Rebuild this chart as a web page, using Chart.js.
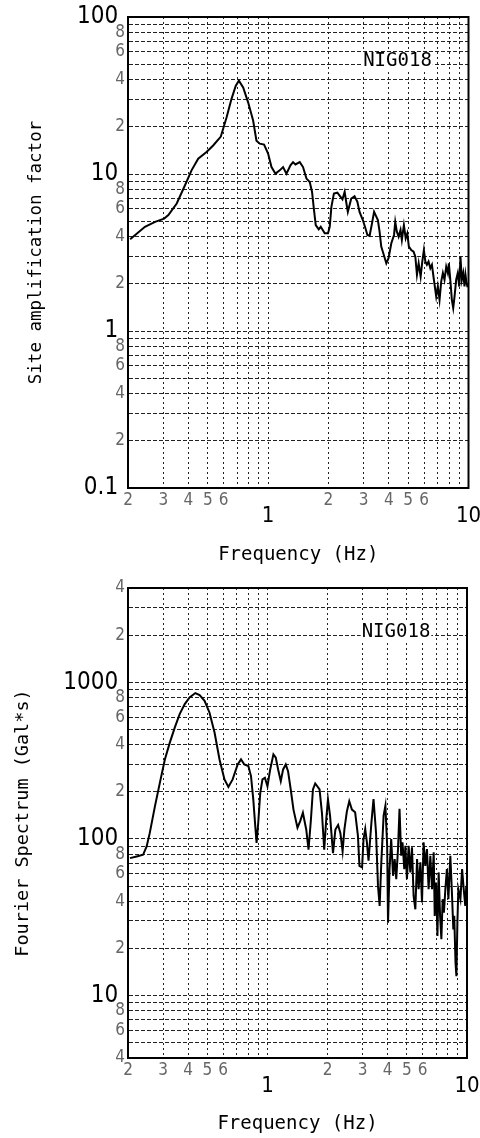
<!DOCTYPE html>
<html>
<head>
<meta charset="utf-8">
<script src="https://cdn.jsdelivr.net/npm/chart.js@4.4.0/dist/chart.umd.min.js"></script>
<style>
  html, body { margin: 0; padding: 0; background: #fff; }
  .panel { width: 480px; height: 569px; }
</style>
</head>
<body>
<div class="panel"><canvas id="siteChart" width="480" height="569"></canvas></div>
<div class="panel"><canvas id="fourierChart" width="480" height="569"></canvas></div>
<script>
// Station code printed in both panels
const STATION = 'NIG018';

// Site amplification factor (upper panel)
const siteFreq = [
  0.205, 0.243, 0.273, 0.303, 0.318, 0.35, 0.385, 0.415, 0.448, 0.493,
  0.532, 0.581, 0.621, 0.657, 0.69, 0.715, 0.751, 0.795, 0.842, 0.875,
  0.909, 0.955, 1.0, 1.04, 1.089, 1.143, 1.188, 1.235, 1.293, 1.332,
  1.369, 1.439, 1.494, 1.554, 1.614, 1.657, 1.695, 1.729, 1.789, 1.831,
  1.917, 1.991, 2.03, 2.07, 2.13, 2.216, 2.30, 2.35, 2.41, 2.46,
  2.50, 2.60, 2.70, 2.79, 2.86, 2.97, 3.06, 3.13, 3.21, 3.30,
  3.38, 3.44, 3.53, 3.60, 3.67, 3.78, 3.89, 3.99, 4.12, 4.25,
  4.31, 4.39, 4.48, 4.58, 4.65, 4.76, 4.86, 4.95, 5.04, 5.18,
  5.32, 5.43, 5.53, 5.64, 5.77, 5.88, 5.99, 6.09, 6.20, 6.32,
  6.45, 6.57, 6.72, 6.90, 7.03, 7.17, 7.31, 7.45, 7.59, 7.74,
  7.89, 7.98, 8.14, 8.26, 8.39, 8.52, 8.68, 8.84, 8.99, 9.12,
  9.26, 9.41, 9.55, 9.66, 9.78, 9.9
];
const siteAmp = [
  3.84, 4.61, 4.96, 5.2, 5.47, 6.49, 8.48, 10.55, 12.5, 13.8,
  15.2, 17.3, 23.0, 30.1, 36.5, 39.3, 35.6, 28.6, 21.9, 16.3,
  15.6, 15.4, 13.5, 11.07, 10.05, 10.55, 11.07, 10.05, 11.35, 11.9,
  11.5, 11.9, 11.07, 9.35, 8.9, 7.69, 5.89, 4.73, 4.44, 4.61,
  4.19, 4.19, 4.61, 6.18, 7.51, 7.6, 7.15, 6.9, 7.69, 6.49,
  5.74, 6.98, 7.22, 6.65, 5.74, 5.09, 4.51, 4.09, 4.04, 4.85,
  5.74, 5.47, 5.09, 4.29, 3.45, 3.05, 2.70, 2.91, 3.62, 4.09,
  4.96, 4.29, 3.99, 4.40, 3.80, 4.73, 3.9, 4.19, 3.45, 3.28,
  3.2, 2.97, 2.28, 2.70, 2.22, 2.77, 3.28, 2.77, 2.64, 2.77,
  2.51, 2.64, 2.12, 1.66, 1.92, 1.58, 2.07, 2.34, 2.12, 2.57,
  2.34, 2.70, 2.02, 1.58, 1.40, 1.66, 2.12, 2.34, 1.92, 2.97,
  2.12, 2.34, 1.92, 2.28, 2.02, 1.9
];

// Fourier spectrum (lower panel)
const fourierFreq = [
  0.2046, 0.221, 0.238, 0.248, 0.257, 0.273, 0.289, 0.306, 0.324, 0.343,
  0.363, 0.385, 0.407, 0.435, 0.457, 0.484, 0.512, 0.543, 0.575, 0.609,
  0.637, 0.669, 0.709, 0.737, 0.766, 0.802, 0.827, 0.849, 0.869, 0.882,
  0.899, 0.92, 0.944, 0.971, 1.0, 1.032, 1.071, 1.101, 1.131, 1.166,
  1.198, 1.235, 1.268, 1.308, 1.35, 1.414, 1.459, 1.505, 1.564, 1.606,
  1.651, 1.69, 1.735, 1.824, 1.875, 1.925, 1.97, 2.01, 2.06, 2.13,
  2.19, 2.26, 2.32, 2.38, 2.43, 2.50, 2.57, 2.65,
  2.75, 2.84, 2.89, 2.98, 3.03, 3.09, 3.15, 3.21, 3.32, 3.40,
  3.50, 3.58, 3.65, 3.72, 3.82, 3.90, 3.98, 4.02, 4.09, 4.17,
  4.26, 4.34, 4.42, 4.51, 4.59, 4.68, 4.75, 4.85, 4.91, 5.0,
  5.10, 5.20, 5.30, 5.40, 5.51, 5.62, 5.72, 5.84, 5.95, 6.06,
  6.18, 6.30, 6.42, 6.55, 6.68, 6.81, 6.89, 7.0, 7.11, 7.21,
  7.33, 7.44, 7.55, 7.66, 7.79, 7.93, 8.07, 8.25, 8.39, 8.54,
  8.63, 8.76, 8.85, 8.95, 9.05, 9.27, 9.45, 9.63, 9.80, 9.92
];
const fourierAmp = [
  75.5, 77.4, 79.3, 89.6, 109, 162, 229, 322, 412, 514,
  627, 726, 801, 854, 829, 762, 642, 478, 322, 240,
  215, 240, 299, 322, 299, 292, 252, 179, 120, 94.3,
  127, 197, 240, 246, 217, 278, 347, 330, 278, 234,
  278, 299, 271, 207, 154, 118, 130, 147, 115, 85.4,
  133, 207, 226, 207, 147, 85.4, 133, 179, 140, 81.3,
  115, 123, 109, 83.3, 115, 150, 174, 154,
  148, 105, 67.4, 65.9, 100, 116, 95, 72.6, 128, 180,
  110, 50.2, 37.4, 70.9, 141, 163, 90.6, 29.2, 64.2, 100,
  58.2, 74.5, 55.4, 86.3, 156, 78.2, 95.2, 64.2, 90.6, 55.4,
  90.6, 61.2, 88.4, 43.3, 35.6, 74.5, 47.8, 70.9, 39.3, 95.2,
  67.4, 86.3, 47.8, 78.2, 47.8, 82.2, 32.3, 52.8, 24.0, 61.2,
  32.3, 22.9, 41.3, 33.9, 47.8, 64.2, 41.3, 78.2, 47.8, 26.5,
  32.3, 16.2, 13.3, 29.2, 47.8, 41.3, 64.2, 47.8, 37.4, 50.2
];

// Axis ticks and labels
const xTicks = [0.2, 0.3, 0.4, 0.5, 0.6, 0.7, 0.8, 0.9, 1, 2, 3, 4, 5, 6, 7, 8, 9, 10];
const xMajors = [1, 10];
const xLabelled = [0.2, 0.3, 0.4, 0.5, 0.6, 2, 3, 4, 5, 6];

const siteTicks = [0.1, 0.2, 0.3, 0.4, 0.5, 0.6, 0.7, 0.8, 0.9, 1, 2, 3, 4, 5, 6, 7, 8, 9,
                   10, 20, 30, 40, 50, 60, 70, 80, 90, 100];
const siteMajors = [0.1, 1, 10, 100];
const siteLabelled = [0.2, 0.4, 0.6, 0.8, 2, 4, 6, 8, 20, 40, 60, 80];

const fourierTicks = [4, 5, 6, 7, 8, 9, 10, 20, 30, 40, 50, 60, 70, 80, 90,
                      100, 200, 300, 400, 500, 600, 700, 800, 900, 1000, 2000, 3000, 4000];
const fourierMajors = [10, 100, 1000];
const fourierLabelled = [4, 6, 8, 20, 40, 60, 80, 200, 400, 600, 800, 2000, 4000];

const NARROW = "'Liberation Sans Narrow', 'DejaVu Sans Condensed', 'Liberation Sans', sans-serif";
const MONO = "'DejaVu Sans Mono', monospace";

// first digit of a tick value, e.g. 0.4 -> 4, 2000 -> 2
function leadDigit(v) {
  return Math.round(v / Math.pow(10, Math.floor(Math.log10(v) + 1e-9)));
}

function isMajor(c, majors) {
  return !!(c.tick && majors.includes(c.tick.value));
}

function xAxis(height) {
  return {
    type: 'logarithmic',
    min: 0.2,
    max: 10,
    afterBuildTicks: s => { s.ticks = xTicks.map(v => ({ value: v })); },
    afterFit: s => { s.height = height; s.paddingLeft = 0; s.paddingRight = 0; },
    ticks: {
      autoSkip: false,
      maxRotation: 0,
      minRotation: 0,
      padding: 2,
      callback: v => xMajors.includes(v) ? ['', String(v)] : (xLabelled.includes(v) ? String(leadDigit(v)) : ''),
      font: c => isMajor(c, xMajors) ? { family: NARROW, size: 22, lineHeight: 0.8 } : { family: NARROW, size: 17, lineHeight: 1.2 },
      color: c => isMajor(c, xMajors) ? '#000' : '#666'
    },
    grid: { color: '#222', lineWidth: 1, drawTicks: false },
    border: { color: '#000', width: 2, dash: [2, 3] },
    title: {
      display: true,
      text: 'Frequency (Hz)',
      color: '#000',
      font: { family: MONO, size: 19 },
      padding: { top: 0, bottom: 3 }
    }
  };
}

function yAxis(min, max, ticks, majors, labelled, title, titleSize, titlePad) {
  return {
    type: 'logarithmic',
    min: min,
    max: max,
    afterBuildTicks: s => { s.ticks = ticks.map(v => ({ value: v })); },
    afterFit: s => { s.width = 128; s.paddingTop = 0; s.paddingBottom = 0; },
    ticks: {
      autoSkip: false,
      padding: 3,
      callback: v => majors.includes(v) ? String(v) + ' ' : (labelled.includes(v) ? String(leadDigit(v)) : ''),
      font: c => isMajor(c, majors) ? { family: NARROW, size: 24 } : { family: NARROW, size: 17 },
      color: c => isMajor(c, majors) ? '#000' : '#666'
    },
    grid: { color: '#222', lineWidth: 1, drawTicks: false },
    border: { color: '#000', width: 2, dash: [4, 2] },
    title: {
      display: true,
      text: title,
      color: '#000',
      font: { family: MONO, size: titleSize },
      padding: { top: titlePad, bottom: 0 }
    }
  };
}

// frame round the plot and the station code on a white patch
const framePlugin = {
  id: 'frame',
  afterDraw(chart) {
    const ctx = chart.ctx;
    const a = chart.chartArea;
    ctx.save();
    ctx.strokeStyle = '#000';
    ctx.lineWidth = 2;
    ctx.strokeRect(a.left, a.top, a.right - a.left, a.bottom - a.top);

    ctx.font = "19px 'DejaVu Sans Mono'";
    const w = ctx.measureText(STATION).width;
    const cx = a.right - 71;
    const cy = a.top + 44;
    ctx.fillStyle = '#fff';
    ctx.fillRect(cx - w / 2 - 1, cy - 9, w + 2, 18);
    ctx.fillStyle = '#000';
    ctx.textAlign = 'center';
    ctx.textBaseline = 'middle';
    ctx.fillText(STATION, cx, cy);
    ctx.restore();
  }
};

function makeChart(id, freq, amp, yScale, padding, xHeight) {
  new Chart(document.getElementById(id).getContext('2d'), {
    type: 'line',
    data: {
      datasets: [{
        data: freq.map((f, i) => ({ x: f, y: amp[i] })),
        borderColor: '#000',
        borderWidth: 2,
        pointRadius: 0,
        tension: 0,
        fill: false
      }]
    },
    options: {
      responsive: false,
      animation: false,
      layout: { padding: padding },
      plugins: { legend: { display: false }, tooltip: { enabled: false } },
      scales: { x: xAxis(xHeight), y: yScale }
    },
    plugins: [framePlugin]
  });
}

makeChart('siteChart', siteFreq, siteAmp,
  yAxis(0.1, 100, siteTicks, siteMajors, siteLabelled, 'Site amplification factor', 17.5, 26),
  { left: 0, right: 11.5, top: 17, bottom: 0 }, 81);

makeChart('fourierChart', fourierFreq, fourierAmp,
  yAxis(4, 4000, fourierTicks, fourierMajors, fourierLabelled, 'Fourier Spectrum (Gal*s)', 18.5, 12),
  { left: 0, right: 13, top: 19, bottom: 0 }, 80);
</script>
</body>
</html>
